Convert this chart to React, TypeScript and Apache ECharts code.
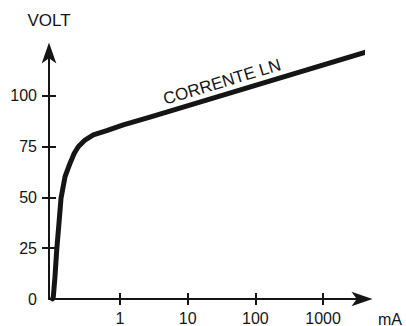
import React, { useEffect, useRef } from "react";
import * as echarts from "echarts";

// Current in mA (log axis) and voltage in V
const currentMA = [0.1007, 0.1035, 0.1096, 0.1162, 0.1256, 0.1345, 0.1542, 0.1825, 0.2113, 0.242, 0.304, 0.404, 0.637, 1.119, 2.77, 4300];
const voltage = [0, 1.1, 11, 24.1, 37.4, 49.5, 60.2, 66.7, 71.7, 74.9, 78.2, 80.7, 82.8, 85.6, 89.5, 121.5];

const xTickValues = [1, 10, 100, 1000];
const yTickValues = [25, 50, 75, 100];
const yLabelValues = [0, 25, 50, 75, 100];

const yAxisName = "VOLT";
const xAxisName = "mA";
const curveLabel = "CORRENTE LN";

const INK = "#151515";
const FONT = "Liberation Sans";

export default function App() {
  const ref = useRef<HTMLDivElement>(null);

  useEffect(() => {
    if (!ref.current) return;
    const chart = echarts.init(ref.current, undefined, { renderer: "svg" });
    const data = currentMA.map((c, i) => [c, voltage[i]]);
    const xMin = 0.0894;
    const xMax = 3756;
    const yMax = 121;

    const option: any = {
      animation: false,
      backgroundColor: "#ffffff",
      grid: { left: 49, right: 44, top: 53, bottom: 27, outerBoundsMode: "none" },
      xAxis: [
        {
          type: "log",
          logBase: 10,
          min: xMin,
          max: xMax,
          axisLine: {
            show: true,
            symbol: ["none", "arrow"],
            symbolSize: [11, 21],
            symbolOffset: [0, 10.5],
            lineStyle: { color: INK, width: 2 },
          },
          axisTick: {
            show: true,
            length: 6,
            customValues: xTickValues,
            lineStyle: { color: INK, width: 2 },
          },
          axisLabel: {
            show: true,
            margin: 11,
            customValues: xTickValues,
            color: INK,
            fontFamily: FONT,
            fontSize: 16,
            formatter: (v: number) => String(Math.round(v)),
          },
          splitLine: { show: false },
          minorTick: { show: false },
        },
        {
          type: "log",
          logBase: 10,
          min: xMin,
          max: xMax,
          position: "bottom",
          axisLine: { show: false },
          axisTick: {
            show: true,
            inside: true,
            length: 6,
            customValues: xTickValues,
            lineStyle: { color: INK, width: 2 },
          },
          axisLabel: { show: false },
          splitLine: { show: false },
        },
      ],
      yAxis: [
        {
          type: "value",
          min: 0,
          max: yMax,
          name: yAxisName,
          nameLocation: "end",
          nameGap: 24,
          nameTextStyle: { color: INK, fontFamily: FONT, fontSize: 17, align: "center" },
          axisLine: {
            show: true,
            symbol: ["none", "arrow"],
            symbolSize: [11, 21],
            symbolOffset: [0, 10.5],
            lineStyle: { color: INK, width: 2 },
          },
          axisTick: {
            show: true,
            length: 7,
            customValues: yTickValues,
            lineStyle: { color: INK, width: 2 },
          },
          axisLabel: {
            show: true,
            margin: 12,
            customValues: yLabelValues,
            color: INK,
            fontFamily: FONT,
            fontSize: 16,
          },
          splitLine: { show: false },
        },
        {
          type: "value",
          min: 0,
          max: yMax,
          position: "left",
          axisLine: { show: false },
          axisTick: {
            show: true,
            inside: true,
            length: 7,
            customValues: yTickValues,
            lineStyle: { color: INK, width: 2 },
          },
          axisLabel: { show: false },
          splitLine: { show: false },
        },
      ],
      series: [
        {
          type: "line",
          xAxisIndex: 0,
          yAxisIndex: 0,
          data,
          showSymbol: false,
          smooth: false,
          clip: false,
          lineStyle: { color: INK, width: 5, cap: "round", join: "round" },
        },
      ],
      graphic: [
        {
          type: "text",
          x: 222,
          y: 82,
          rotation: 0.292,
          style: {
            text: curveLabel,
            fill: INK,
            font: `17px "${FONT}"`,
            align: "center",
            verticalAlign: "middle",
          },
        },
        {
          type: "text",
          x: 378,
          y: 319,
          style: {
            text: xAxisName,
            fill: INK,
            font: `16px "${FONT}"`,
            align: "left",
            verticalAlign: "middle",
          },
        },
      ],
    };
    chart.setOption(option);
    return () => chart.dispose();
  }, []);

  return (
    <div
      ref={ref}
      style={{ position: "fixed", left: 0, top: 0, width: 406, height: 326, background: "#fff" }}
    />
  );
}
